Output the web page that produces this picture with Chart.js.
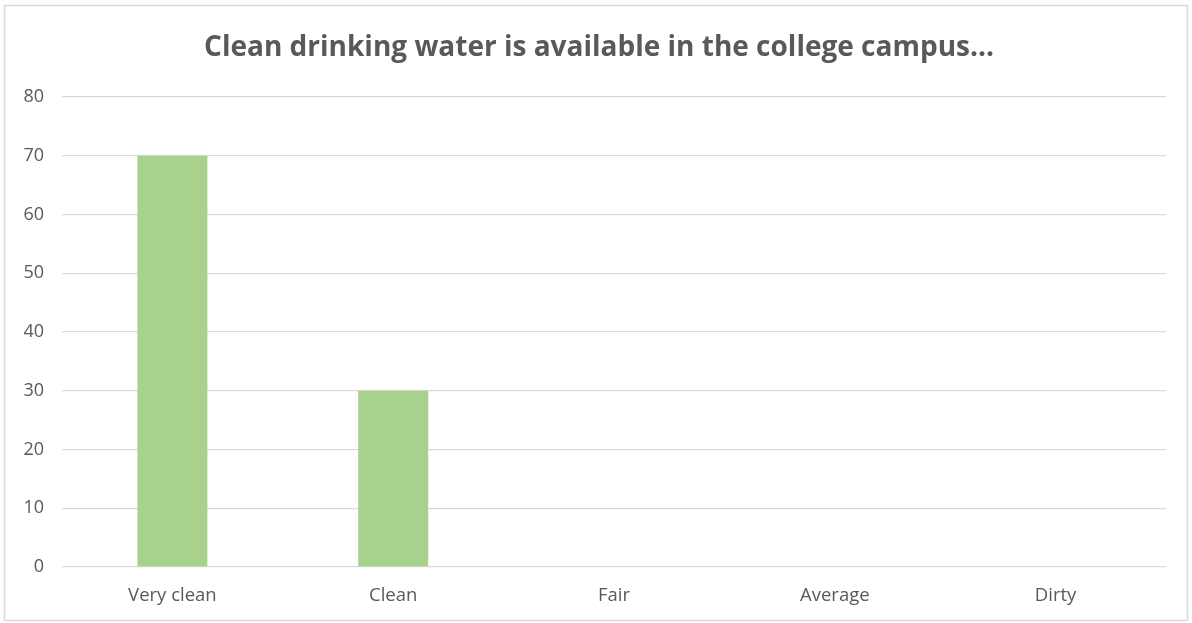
<!DOCTYPE html>
<html>
<head>
<meta charset="utf-8">
<script src="https://cdn.jsdelivr.net/npm/chart.js@4/dist/chart.umd.min.js"></script>
<style>
  html, body { margin: 0; padding: 0; background: #fff; }
  #wrap { width: 1192px; height: 623px; position: relative; }
</style>
</head>
<body>
<div id="wrap"><canvas id="chart" width="1192" height="623"></canvas></div>
<script>
  const categories = ['Very clean', 'Clean', 'Fair', 'Average', 'Dirty'];
  const values = [70, 30, 0, 0, 0];
  const titleText = 'Clean drinking water is available in the college campus...';

  const textColor = '#595959';
  const gridColor = '#D9D9D9';

  // frame around the whole chart + title centred on the frame, not the plot
  const frame = {
    id: 'frame',
    beforeDraw(chart) {
      const c = chart.ctx;
      c.save();
      c.fillStyle = '#fff';
      c.fillRect(0, 0, chart.width, chart.height);
      c.strokeStyle = '#D9D9D9';
      c.lineWidth = 1.5;
      c.strokeRect(4.5, 5.5, 1183, 615);
      c.restore();
    },
    afterDraw(chart) {
      const c = chart.ctx;
      c.save();
      c.fillStyle = textColor;
      c.font = 'bold 28px "Open Sans"';
      c.textAlign = 'center';
      c.textBaseline = 'middle';
      c.fillText(titleText, 599, 48);
      c.restore();
    }
  };

  new Chart(document.getElementById('chart'), {
    type: 'bar',
    data: {
      labels: categories,
      datasets: [{
        data: values,
        backgroundColor: '#A9D18E',
        categoryPercentage: 1,
        barPercentage: 0.317
      }]
    },
    options: {
      responsive: false,
      animation: false,
      layout: { padding: { left: 0, right: 26, top: 97, bottom: 0 } },
      plugins: {
        legend: { display: false },
        tooltip: { enabled: false },
        title: { display: false }
      },
      scales: {
        x: {
          grid: { display: false },
          border: { display: false },
          ticks: {
            color: textColor,
            font: { family: 'Open Sans', size: 18.5 },
            padding: 10
          },
          afterFit(scale) { scale.height = 56; }
        },
        y: {
          min: 0,
          max: 80,
          grid: { color: gridColor, lineWidth: 1.3, drawTicks: false },
          border: { display: false },
          ticks: {
            stepSize: 10,
            color: textColor,
            font: { family: 'Open Sans', size: 18 },
            padding: 18
          },
          afterFit(scale) { scale.width = 62; }
        }
      }
    },
    plugins: [frame]
  });
</script>
</body>
</html>
